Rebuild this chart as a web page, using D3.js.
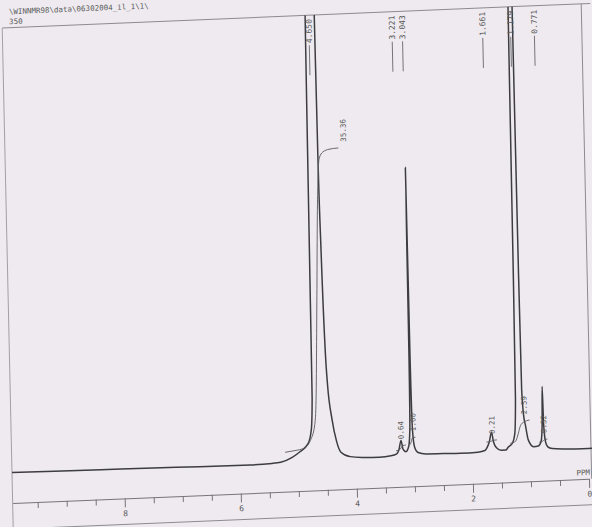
<!DOCTYPE html>
<html>
<head>
<meta charset="utf-8">
<script src="https://cdn.jsdelivr.net/npm/d3@7"></script>
<style>
body { margin: 0; background: #eeeaef; }
svg { display: block; }
text { font-family: "DejaVu Sans Mono", "Liberation Mono", monospace; fill: #5a5a5a; }
</style>
</head>
<body>
<svg width="592" height="527"></svg>
<script>
// spectrum trace, [ppm, intensity], 100 = top of the frame
var baseLeft = [[9.93, 0], [9.2, -0.1], [8.4, -0.2], [7.5, -0.3], [6.7, -0.45], [5.83, -0.55], [5.45, -0.4], [5.30, -0.2]];
var waterPeak = [[5.10, 0.8], [4.965, 2.0], [4.82, 3.8], [4.76, 7], [4.735, 14], [4.728, 40], [4.72, 70], [4.71, 105],
                 [4.63, 200], [4.555, 105], [4.545, 70], [4.525, 47], [4.49, 24], [4.465, 17], [4.40, 9], [4.33, 4],
                 [4.26, 1.5], [4.10, 0.4], [3.90, 0.1]];
var midPeaks = [[3.60, 0], [3.40, 0.2], [3.30, 0.6], [3.26, 1.5], [3.221, 3.6], [3.19, 1.6], [3.14, 1.0], [3.09, 2.2],
                [3.065, 6], [3.052, 22], [3.043, 65.5], [3.034, 22], [3.02, 6], [2.99, 2], [2.93, 0.7], [2.80, 0.3],
                [2.50, 0.2], [2.20, 0.1], [1.90, 0.2], [1.78, 0.5]];
var highField = [[1.74, 1.2], [1.70, 2.5], [1.661, 4.6], [1.63, 2.4], [1.58, 1.0], [1.50, 0.4], [1.42, 0.4],
                 [1.38, 1.0], [1.30, 2.0], [1.26, 4], [1.235, 12], [1.225, 40], [1.215, 100], [1.18, 200],
                 [1.145, 100], [1.135, 40], [1.125, 14], [1.10, 8], [1.075, 6], [1.03, 2.5], [0.94, 0.9],
                 [0.86, 1.0], [0.81, 2.0], [0.785, 6], [0.771, 14.5], [0.76, 6], [0.735, 2], [0.70, 0.8],
                 [0.62, 0.3], [0.40, 0.1], [0.10, 0], [-0.10, 0]];

// picked peaks
var peakPpm = [4.650, 3.221, 3.043, 1.661, 1.179, 0.771];
var peakText = ["4.650", "3.221", "3.043", "1.661", "1.179", "0.771"];

// integral curves, [ppm, level]
var intWater = [[5.22, 2.0], [5.05, 2.3], [4.90, 2.7], [4.78, 4.5], [4.70, 8], [4.68, 10.5], [4.617, 36],
                [4.567, 59], [4.543, 66], [4.52, 68.5], [4.46, 69.8], [4.35, 70.4], [4.19, 70.6]];
var int322 = [[3.31, 1.3], [3.25, 1.5], [3.221, 1.9], [3.19, 2.4], [3.14, 2.5]];
var int304 = [[3.10, 2.3], [3.06, 2.7], [3.043, 3.3], [3.03, 4.0], [2.97, 4.2]];
var int166 = [[1.75, 2.4], [1.68, 2.5], [1.661, 2.6], [1.63, 2.75], [1.57, 2.8]];
var int118 = [[1.34, 1.9], [1.25, 2.3], [1.20, 4.0], [1.16, 5.8], [1.10, 6.6], [1.00, 7.0]];
var int077 = [[0.84, 1.9], [0.79, 2.0], [0.771, 2.2], [0.75, 2.45], [0.70, 2.5]];
var intCurves = [intWater, int322, int304, int166, int118, int077];
var intText = ["35.36", "0.64", "1.00", "0.21", "2.59", "0.32"];
var intLabelPpm = [4.10, 3.22, 3.01, 1.65, 1.09, 0.76];

var majorTicks = [8, 6, 4, 2, 0];
var minorTicks = [9.5, 9, 8.5, 7.5, 7, 6.5, 5.5, 5, 4.5, 3.5, 3, 2.5, 1.5, 1, 0.5];

var svg = d3.select("svg");

var x = d3.scaleLinear().domain([9.93, 0]).range([12, 588.3]);
var y = d3.scaleLinear().domain([0, 100]).range([460.5, 20.5]);

// the scanned sheet is skewed a little
var g = svg.append("g").attr("transform", "matrix(1,-0.042,0.022,1,-10.14,12.6)");

g.append("clipPath").attr("id", "plotclip")
  .append("rect").attr("x", 12).attr("y", 16).attr("width", 580).attr("height", 476);

// header
g.append("text").attr("x", 19).attr("y", 2.5).attr("font-size", 7.5)
  .text("\\WINNMR98\\data\\06302004_il_1\\1\\");
g.append("text").attr("x", 19).attr("y", 12.5).attr("font-size", 7.5).text("350");

// frame
var frame = g.append("g").attr("stroke", "#8d8a90").attr("stroke-width", 1).attr("fill", "none");
frame.append("line").attr("x1", 12).attr("x2", 600).attr("y1", 16).attr("y2", 16);
frame.append("line").attr("x1", 12).attr("x2", 12).attr("y1", 16).attr("y2", 540).attr("stroke", "#a29fa5");
frame.append("line").attr("x1", 591).attr("x2", 591).attr("y1", 16).attr("y2", 491);
frame.append("line").attr("x1", 12).attr("x2", 600).attr("y1", 517).attr("y2", 517);

// spectrum
var trace = baseLeft.concat(waterPeak, midPeaks, highField);
var line = d3.line().x(d => x(d[0])).y(d => y(d[1])).curve(d3.curveMonotoneX);

g.append("path").datum(trace)
  .attr("clip-path", "url(#plotclip)")
  .attr("d", line)
  .attr("fill", "none").attr("stroke", "#3d3d40").attr("stroke-width", 1.5);

// integrals
g.selectAll(".int").data(intCurves).enter().append("path")
  .attr("class", "int")
  .attr("d", line)
  .attr("fill", "none").attr("stroke", "#5c5b60").attr("stroke-width", 0.9);

g.selectAll(".intlab").data(intText).enter().append("text")
  .attr("class", "intlab")
  .attr("font-size", 7.5)
  .attr("transform", function(d, i) {
    var c = intCurves[i];
    var lev = c[c.length - 1][1];
    return "translate(" + x(intLabelPpm[i]) + "," + (y(lev) - 6) + ") rotate(-90)";
  })
  .attr("dy", "0.35em")
  .text(d => d);

// peak labels
var pk = g.selectAll(".pk").data(peakPpm).enter().append("g").attr("class", "pk");
pk.append("line")
  .attr("x1", d => x(d)).attr("x2", d => x(d))
  .attr("y1", 46).attr("y2", 76)
  .attr("stroke", "#6a686d").attr("stroke-width", 0.9);
pk.append("text")
  .attr("font-size", 8)
  .attr("transform", d => "translate(" + x(d) + ",44) rotate(-90)")
  .attr("dy", "0.35em")
  .text((d, i) => peakText[i]);

// ppm axis
var axisY = 491;
var axMajor = g.append("g").attr("transform", "translate(0," + axisY + ")")
  .call(d3.axisBottom(x).tickValues(majorTicks).tickSize(9).tickSizeOuter(0).tickFormat(d3.format("d")));
var axMinor = g.append("g").attr("transform", "translate(0," + axisY + ")")
  .call(d3.axisBottom(x).tickValues(minorTicks).tickSize(6).tickFormat(""));
axMinor.select(".domain").remove();
g.selectAll(".tick line").attr("stroke", "#77747a");
axMajor.select(".domain").attr("stroke", "#77747a");
axMajor.selectAll(".tick text").attr("font-size", 8).attr("fill", "#666").attr("font-family", "DejaVu Sans Mono, monospace");

g.append("text").attr("x", 576).attr("y", 487).attr("font-size", 7.5).text("PPM");
</script>
</body>
</html>
